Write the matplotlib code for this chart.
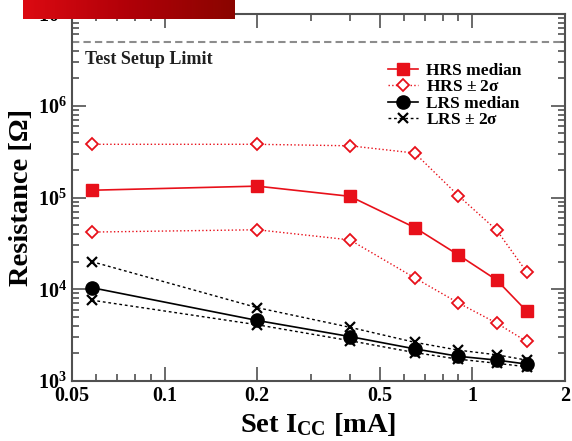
import numpy as np
import matplotlib
matplotlib.use("Agg")
import matplotlib.pyplot as plt
from matplotlib.ticker import FixedLocator, FixedFormatter, LogLocator, NullFormatter
from matplotlib.colors import LinearSegmentedColormap

plt.rcParams['font.family'] = ['Liberation Serif', 'DejaVu Serif']
plt.rcParams['font.weight'] = 'bold'
plt.rcParams['mathtext.fontset'] = 'custom'
plt.rcParams['mathtext.rm'] = 'Liberation Serif:bold'
plt.rcParams['mathtext.bf'] = 'Liberation Serif:bold'
plt.rcParams['mathtext.it'] = 'Liberation Serif:bold'

icc = [0.058, 0.2, 0.4, 0.65, 0.9, 1.2, 1.5]
hrs_median = [1.2e5, 1.33e5, 1.03e5, 4.7e4, 2.37e4, 1.26e4, 5.8e3]
hrs_plus = [3.8e5, 3.8e5, 3.66e5, 3.05e5, 1.05e5, 4.4e4, 1.55e4]
hrs_minus = [4.2e4, 4.45e4, 3.45e4, 1.33e4, 7.1e3, 4.27e3, 2.7e3]
lrs_median = [1.04e4, 4.57e3, 3.05e3, 2.24e3, 1.86e3, 1.69e3, 1.53e3]
lrs_plus = [2.0e4, 6.3e3, 3.85e3, 2.64e3, 2.17e3, 1.93e3, 1.69e3]
lrs_minus = [7.6e3, 4.1e3, 2.75e3, 2.04e3, 1.73e3, 1.56e3, 1.43e3]
test_limit = 5e6

xticks = [0.05, 0.1, 0.2, 0.5, 1, 2]
xticklabels = ['0.05', '0.1', '0.2', '0.5', '1', '2']
yticks = [1e3, 1e4, 1e5, 1e6, 1e7]
yticklabels = [r'$\mathbf{10^{3}}$', r'$\mathbf{10^{4}}$', r'$\mathbf{10^{5}}$',
               r'$\mathbf{10^{6}}$', r'$\mathbf{10^{7}}$']

fig = plt.figure(figsize=(5.72, 4.41), dpi=100)
ax = fig.add_axes([72/572, 60/441, 493/572, 367/441])

red = '#e8101a'
ax.axhline(test_limit, color='#8c8c8c', lw=1.5, ls=(0, (3.5, 2)))
ax.text(0.0552, 3.95e6, 'Test Setup Limit', fontsize=13, fontweight='bold',
        va='top', ha='left', color='#202020')

ax.plot(icc, hrs_plus, color=red, lw=1, ls=':', marker='D', ms=6.5,
        mfc='white', mec=red, mew=1.3, label=r'HRS $\pm$ 2σ')
ax.plot(icc, hrs_minus, color=red, lw=1, ls=':', marker='D', ms=6.5,
        mfc='white', mec=red, mew=1.3)
ax.plot(icc, hrs_median, color=red, lw=1.2, ls='-', marker='s', ms=8.5,
        mfc=red, mec=red, label='HRS median')
ax.plot(icc, lrs_plus, color='black', lw=1, ls=(0, (2, 2)), marker='x', ms=7,
        mew=1.6, label=r'LRS $\pm$ 2σ')
ax.plot(icc, lrs_minus, color='black', lw=1, ls=(0, (2, 2)), marker='x', ms=7,
        mew=1.6)
ax.plot(icc, lrs_median, color='black', lw=1.2, ls='-', marker='o', ms=9.5,
        label='LRS median')

ax.set_xscale('log')
ax.set_yscale('log')
ax.set_xlim(0.05, 2)
ax.set_ylim(1e3, 1e7)

ax.xaxis.set_major_locator(FixedLocator(xticks))
ax.xaxis.set_major_formatter(FixedFormatter(xticklabels))
ax.xaxis.set_minor_locator(LogLocator(base=10, subs=np.arange(2, 10)))
ax.xaxis.set_minor_formatter(NullFormatter())
ax.yaxis.set_major_locator(FixedLocator(yticks))
ax.yaxis.set_major_formatter(FixedFormatter(yticklabels))
ax.yaxis.set_minor_locator(LogLocator(base=10, subs=np.arange(2, 10)))
ax.yaxis.set_minor_formatter(NullFormatter())

ax.tick_params(which='both', direction='in', top=True, right=True, width=1.2,
               color='#505050')
ax.tick_params(which='major', length=10, labelsize=14.5)
ax.tick_params(which='minor', length=5)
for lab in ax.get_xticklabels() + ax.get_yticklabels():
    lab.set_fontweight('bold')
for sp in ax.spines.values():
    sp.set_linewidth(1.5)
    sp.set_color('#505050')

ax.set_xlabel(r'Set I$_{\mathbf{CC}}$ [mA]', fontsize=20.5, fontweight='bold', labelpad=4)
ax.set_ylabel('Resistance [Ω]', fontsize=20.5, fontweight='bold', labelpad=3)

handles, labels = ax.get_legend_handles_labels()
order = [1, 0, 3, 2]
ax.legend([handles[i] for i in order], [labels[i] for i in order],
          loc='upper left', bbox_to_anchor=(0.627, 0.885), borderaxespad=0,
          frameon=False, handlelength=1.75, handletextpad=0.45,
          labelspacing=0.0, prop={'weight': 'bold', 'size': 12.5})

# decorative red banner at top-left
bax = fig.add_axes([23/572, 1 - 19/441, 211/572, 19/441], zorder=10)
grad = np.linspace(0, 1, 256).reshape(1, -1)
cmap = LinearSegmentedColormap.from_list('banner', ['#dc0a12', '#b00008', '#8a0500'])
bax.imshow(grad, aspect='auto', cmap=cmap, extent=[0, 1, 0, 1])
bax.set_axis_off()

fig.savefig('out.png', dpi=100)
